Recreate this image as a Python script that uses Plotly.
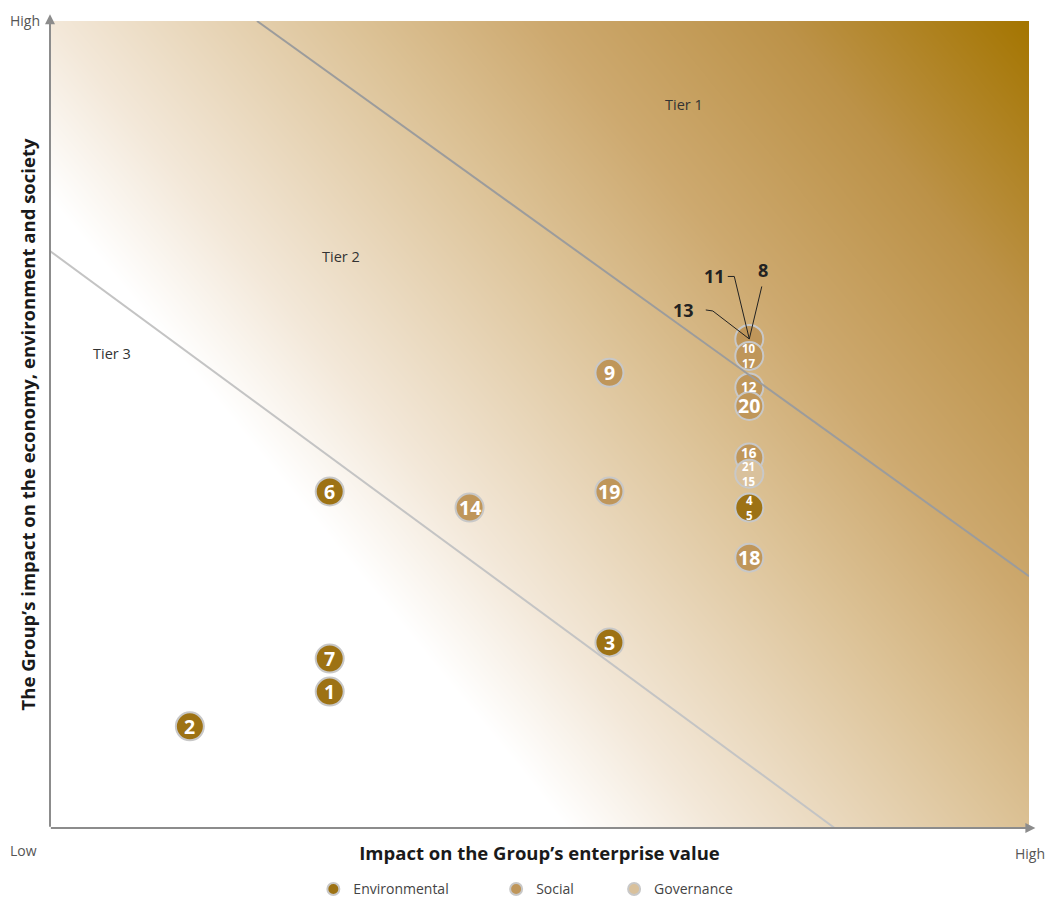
import numpy as np
import plotly.graph_objects as go

# ---------------- data ----------------
# x: impact on enterprise value (0..7), y: impact on economy/environment/society (0..10)
env_labels = ["1", "2", "3", "4<br>5", "6", "7"]
env_x = [2, 1, 4, 5, 2, 2]
env_y = [1.69, 1.26, 2.30, 3.97, 4.17, 2.10]

soc_labels = ["", "9", "10<br>17", "12", "14", "16", "18", "19", "20"]
soc_x = [5, 4, 5, 5, 3, 5, 5, 4, 5]
soc_y = [6.06, 5.64, 5.85, 5.46, 3.97, 4.59, 3.35, 4.17, 5.23]

gov_labels = ["21<br>15"]
gov_x = [5]
gov_y = [4.39]

callout_labels = ["13", "11", "8"]          # topics stacked under the unlabeled circle

tier_names = ["Tier 1", "Tier 2", "Tier 3"]
tier_label_x = [4.53, 2.08, 0.44]
tier_label_y = [8.97, 7.08, 5.88]

tier1_x = [1.48, 7.0]
tier1_y = [10.0, 3.12]
tier2_x = [0.0, 5.61]
tier2_y = [7.15, 0.0]

X_MAX, Y_MAX = 7, 10

# ---------------- styles ----------------
FONT = "Open Sans"
C_ENV = "#9D7214"
C_SOC = "#BF965A"
C_GOV = "#D9C19C"
BORDER = dict(color="#C8C8C8", width=2)
AXIS_C = "#8C8C8C"

fig = go.Figure()

# diagonal background gradient (white -> gold)
gx = np.linspace(0, X_MAX, 141)
gy = np.linspace(0, Y_MAX, 201)
U, V = np.meshgrid(gx / X_MAX, gy / Y_MAX)
Z = 0.87 * U + 0.59 * V - 0.46
fig.add_trace(go.Heatmap(
    x=gx, y=gy, z=Z, zmin=0, zmax=1, zsmooth="best", showscale=False,
    hoverinfo="skip",
    colorscale=[[0, "#FFFFFF"], [0.13, "#F3E8D9"], [0.4, "#DCC296"],
                [0.565, "#CDA96F"], [0.78, "#BC9248"], [1, "#A47500"]],
))

def marker_trace(name, xs, ys, color, legend):
    return go.Scatter(
        x=xs, y=ys, mode="markers", name=name, legend=legend,
        marker=dict(size=28, color=color, line=BORDER),
        hoverinfo="skip",
    )

fig.add_trace(marker_trace("Environmental", env_x, env_y, C_ENV, "legend"))
fig.add_trace(marker_trace("Social", soc_x, soc_y, C_SOC, "legend2"))
fig.add_trace(marker_trace("Governance", gov_x, gov_y, C_GOV, "legend3"))

# tier boundaries
fig.add_trace(go.Scatter(x=tier1_x, y=tier1_y, mode="lines", showlegend=False,
                         line=dict(color="#9C9C9C", width=2), hoverinfo="skip"))
fig.add_trace(go.Scatter(x=tier2_x, y=tier2_y, mode="lines", showlegend=False,
                         line=dict(color="#C4C4C4", width=2), hoverinfo="skip"))

# number labels on top of all circles
raise_px = {"16": 5}   # label nudged up where the circle below overlaps it
all_labels = env_labels + soc_labels + gov_labels
all_x = env_x + soc_x + gov_x
all_y = env_y + soc_y + gov_y
for t, px, py in zip(all_labels, all_x, all_y):
    if not t:
        continue
    if "<br>" in t:
        size = 11.5
    elif t in ("12", "16"):
        size = 13.5
    else:
        size = 19.5
    fig.add_annotation(
        x=px, y=py, xref="x", yref="y", text=t, showarrow=False,
        yshift=raise_px.get(t, 0), borderpad=0,
        font=dict(family=FONT, size=size, color="white", weight="bold"),
    )

# callout leaders for the stacked circle (index 0 of social)
ax0, ay0 = soc_x[0], soc_y[0]
leader_paths = [
    "M -43.5 29 L -36.5 28 L 0 0",   # 13
    "M -21.5 62.5 L -15 62.5 L 0 0",  # 11
    "M 12.5 52.5 L 0 0",             # 8
]
for p in leader_paths:
    fig.add_shape(type="path", xref="x", yref="y", xsizemode="pixel", ysizemode="pixel",
                  xanchor=ax0, yanchor=ay0, path=p,
                  line=dict(color="#222222", width=1))
callout_shift = [(-66, 28.5), (-35, 62.5), (14, 68.5)]
for lab, (dx, dy) in zip(callout_labels, callout_shift):
    fig.add_annotation(x=ax0, y=ay0, xref="x", yref="y", text=lab, showarrow=False,
                       xshift=dx, yshift=dy,
                       font=dict(family=FONT, size=18, color="#222222", weight="bold"))

# tier labels
for n, tx, ty in zip(tier_names, tier_label_x, tier_label_y):
    fig.add_annotation(x=tx, y=ty, xref="x", yref="y", text=n, showarrow=False,
                       font=dict(family=FONT, size=14.5, color="#333333"))

# axis arrows
fig.add_annotation(x=0, y=1.0083, xref="paper", yref="paper", ax=0, ay=814,
                   axref="pixel", ayref="pixel", text="", showarrow=True,
                   arrowhead=2, arrowsize=1, arrowwidth=2, arrowcolor=AXIS_C, standoff=0)
fig.add_annotation(x=1.0065, y=0, xref="paper", yref="paper", ax=-986, ay=0,
                   axref="pixel", ayref="pixel", text="", showarrow=True,
                   arrowhead=2, arrowsize=1, arrowwidth=2, arrowcolor=AXIS_C, standoff=0)

# Low / High markers
lab_font = dict(family=FONT, size=14, color="#555555")
fig.add_annotation(x=-0.0429, y=1.001, xref="paper", yref="paper", text="High",
                   showarrow=False, xanchor="left", yanchor="middle", font=lab_font)
fig.add_annotation(x=-0.0429, y=-0.0273, xref="paper", yref="paper", text="Low",
                   showarrow=False, xanchor="left", yanchor="middle", font=lab_font)
fig.add_annotation(x=1.001, y=-0.031, xref="paper", yref="paper", text="High",
                   showarrow=False, xanchor="center", yanchor="middle", font=lab_font)

title_font = dict(family=FONT, size=18.5, color="#1a1a1a", weight="bold")
fig.update_xaxes(range=[0, X_MAX], showgrid=False, zeroline=False, showticklabels=False,
                 ticks="", showline=False, fixedrange=True,
                 title=dict(text="Impact on the Group’s enterprise value", font=title_font,
                            standoff=19))
fig.update_yaxes(range=[0, Y_MAX], showgrid=False, zeroline=False, showticklabels=False,
                 ticks="", showline=False, fixedrange=True,
                 title=dict(text="The Group’s impact on the economy, environment and society",
                            font=title_font, standoff=8))

leg_common = dict(orientation="h", xanchor="left", yanchor="middle", y=-0.076,
                  bgcolor="rgba(0,0,0,0)", borderwidth=0, itemsizing="constant",
                  font=dict(family=FONT, size=14, color="#444444"))
fig.update_layout(
    width=1051, height=898,
    margin=dict(l=50, r=22, t=21, b=70, autoexpand=False),
    paper_bgcolor="white", plot_bgcolor="white",
    font=dict(family=FONT),
    legend=dict(x=0.269, **leg_common),
    legend2=dict(x=0.4557, **leg_common),
    legend3=dict(x=0.5762, **leg_common),
    hovermode=False,
)

fig.write_html("out.html")
